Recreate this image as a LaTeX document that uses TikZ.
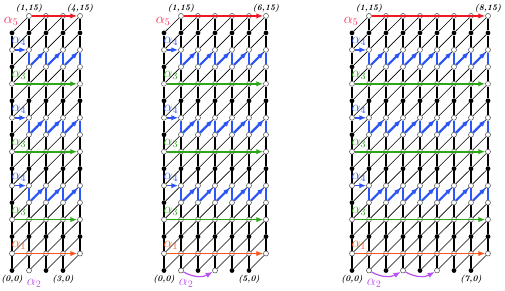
\documentclass[tikz,border=0pt]{standalone}
\usepackage{tikz}
\usetikzlibrary{arrows.meta,backgrounds,positioning}

\definecolor{redA}{RGB}{240,25,35}
\definecolor{pinkA}{RGB}{250,45,85}
\definecolor{blueA}{RGB}{45,85,245}
\definecolor{greenA}{RGB}{45,165,25}
\definecolor{orangeA}{RGB}{250,85,25}
\definecolor{violetA}{RGB}{185,80,240}

\begin{document}
\begin{tikzpicture}[x=17bp,y=16.97bp,
  dot/.style={circle,fill=black,inner sep=0pt,minimum size=4.8bp},
  opendot/.style={circle,draw=black!70,fill=white,line width=.5bp,inner sep=0pt,minimum size=5bp},
  vert/.style={line width=1.5bp},
  diag/.style={line width=.6bp},
  arr/.style={-{Latex[length=7bp,width=5.5bp]},line width=1.6bp},
  zig/.style={line width=2.2bp},
  coordlab/.style={font=\fontsize{8.5}{9}\selectfont\bfseries\itshape,inner sep=.5bp},
  alab/.style={font=\Large,inner sep=0pt}]
\useasboundingbox (0,0) rectangle (505bp,291bp);
\foreach \n/\ox in {4/12,6/164,8/352}{
\begin{scope}[shift={(\ox*1bp,20.5bp)}]
  \pgfmathtruncatemacro\nm{\n-1}
  % lattice points
  \foreach \i in {0,...,\n}{
    \pgfmathtruncatemacro\jmin{\i==\n ? 1 : 0}
    \pgfmathtruncatemacro\jmax{\i==0 ? 14 : 15}
    \foreach \j in {\jmin,...,\jmax}{
      \pgfmathtruncatemacro\open{(mod(\j,2)==1) || (\j>0 && mod(\j,4)==0 && \i>0) || (\j==0 && mod(\i,2)==1 && \i<\n-2)}
      \ifnum\open=1
        \node[opendot] (p\n-\i-\j) at (\i,\j) {};
      \else
        \node[dot] (p\n-\i-\j) at (\i,\j) {};
      \fi
    }
  }
  % lattice edges
  \begin{scope}[on background layer]
    \foreach \i in {0,...,\n}{
      \pgfmathtruncatemacro\jmin{\i==\n ? 1 : 0}
      \pgfmathtruncatemacro\jtop{\i==0 ? 13 : 14}
      \foreach \j in {\jmin,...,\jtop}{
        \pgfmathtruncatemacro\jj{\j+1}
        \draw[vert] (p\n-\i-\j) -- (p\n-\i-\jj);
      }
    }
    \foreach \i in {0,...,\nm}{
      \pgfmathtruncatemacro\ii{\i+1}
      \foreach \j in {0,...,14}{
        \pgfmathtruncatemacro\jj{\j+1}
        \draw[diag] (p\n-\i-\j) -- (p\n-\ii-\jj);
      }
    }
  \end{scope}
  % alpha_5
  \draw[arr,redA] (p\n-1-15) -- (p\n-\n-15);
  \node[alab,pinkA] (a5-\n) at (-.05,14.7) {$\alpha_5$};
  % alpha_4 zigzags
  \foreach \r in {13,9,5}{
    \pgfmathtruncatemacro\rb{\r-1}
    \draw[arr,blueA] (p\n-0-\r) -- (p\n-1-\r);
    \foreach \k in {1,...,\nm}{
      \pgfmathtruncatemacro\kk{\k+1}
      \draw[zig,blueA] (p\n-\k-\r) -- (p\n-\k-\rb);
      \draw[arr,zig,blueA] (p\n-\k-\rb) -- (p\n-\kk-\r);
    }
    \draw[zig,blueA] (p\n-\n-\r) -- (p\n-\n-\rb);
    \node[alab,blueA] (a4-\n-\r) at (.4,\r+.5) {$\alpha_4$};
  }
  % alpha_3
  \foreach \r in {11,7,3}{
    \draw[arr,greenA] (p\n-0-\r) -- (p\n-\n-\r);
    \node[alab,greenA] (a3-\n-\r) at (.4,\r+.5) {$\alpha_3$};
  }
  % alpha_1
  \draw[arr,orangeA] (p\n-0-1) -- (p\n-\n-1);
  \node[alab,orangeA] (a1-\n) at (.4,1.5) {$\alpha_1$};
  % alpha_2
  \node[alab,violetA] (a2-\n) at (1.3,-.75) {$\alpha_2$};
  \ifnum\n>4
    \draw[arr,violetA,line width=1.2bp] (p\n-1-0) to[bend right=30] (p\n-3-0);
  \fi
  \ifnum\n>6
    \draw[arr,violetA,line width=1.2bp] (p\n-3-0) to[bend right=30] (p\n-5-0);
  \fi
  % corner labels
  \node[coordlab,above=0pt of p\n-1-15] (t1-\n) {(1,15)};
  \node[coordlab,above=0pt of p\n-\n-15] (t2-\n) {(\n,15)};
  \node[coordlab,below=1.5bp of p\n-0-0] (b1-\n) {(0,0)};
  \node[coordlab,below=1.5bp of p\n-\nm-0] (b2-\n) {(\nm,0)};
\end{scope}}
\end{tikzpicture}
\end{document}
